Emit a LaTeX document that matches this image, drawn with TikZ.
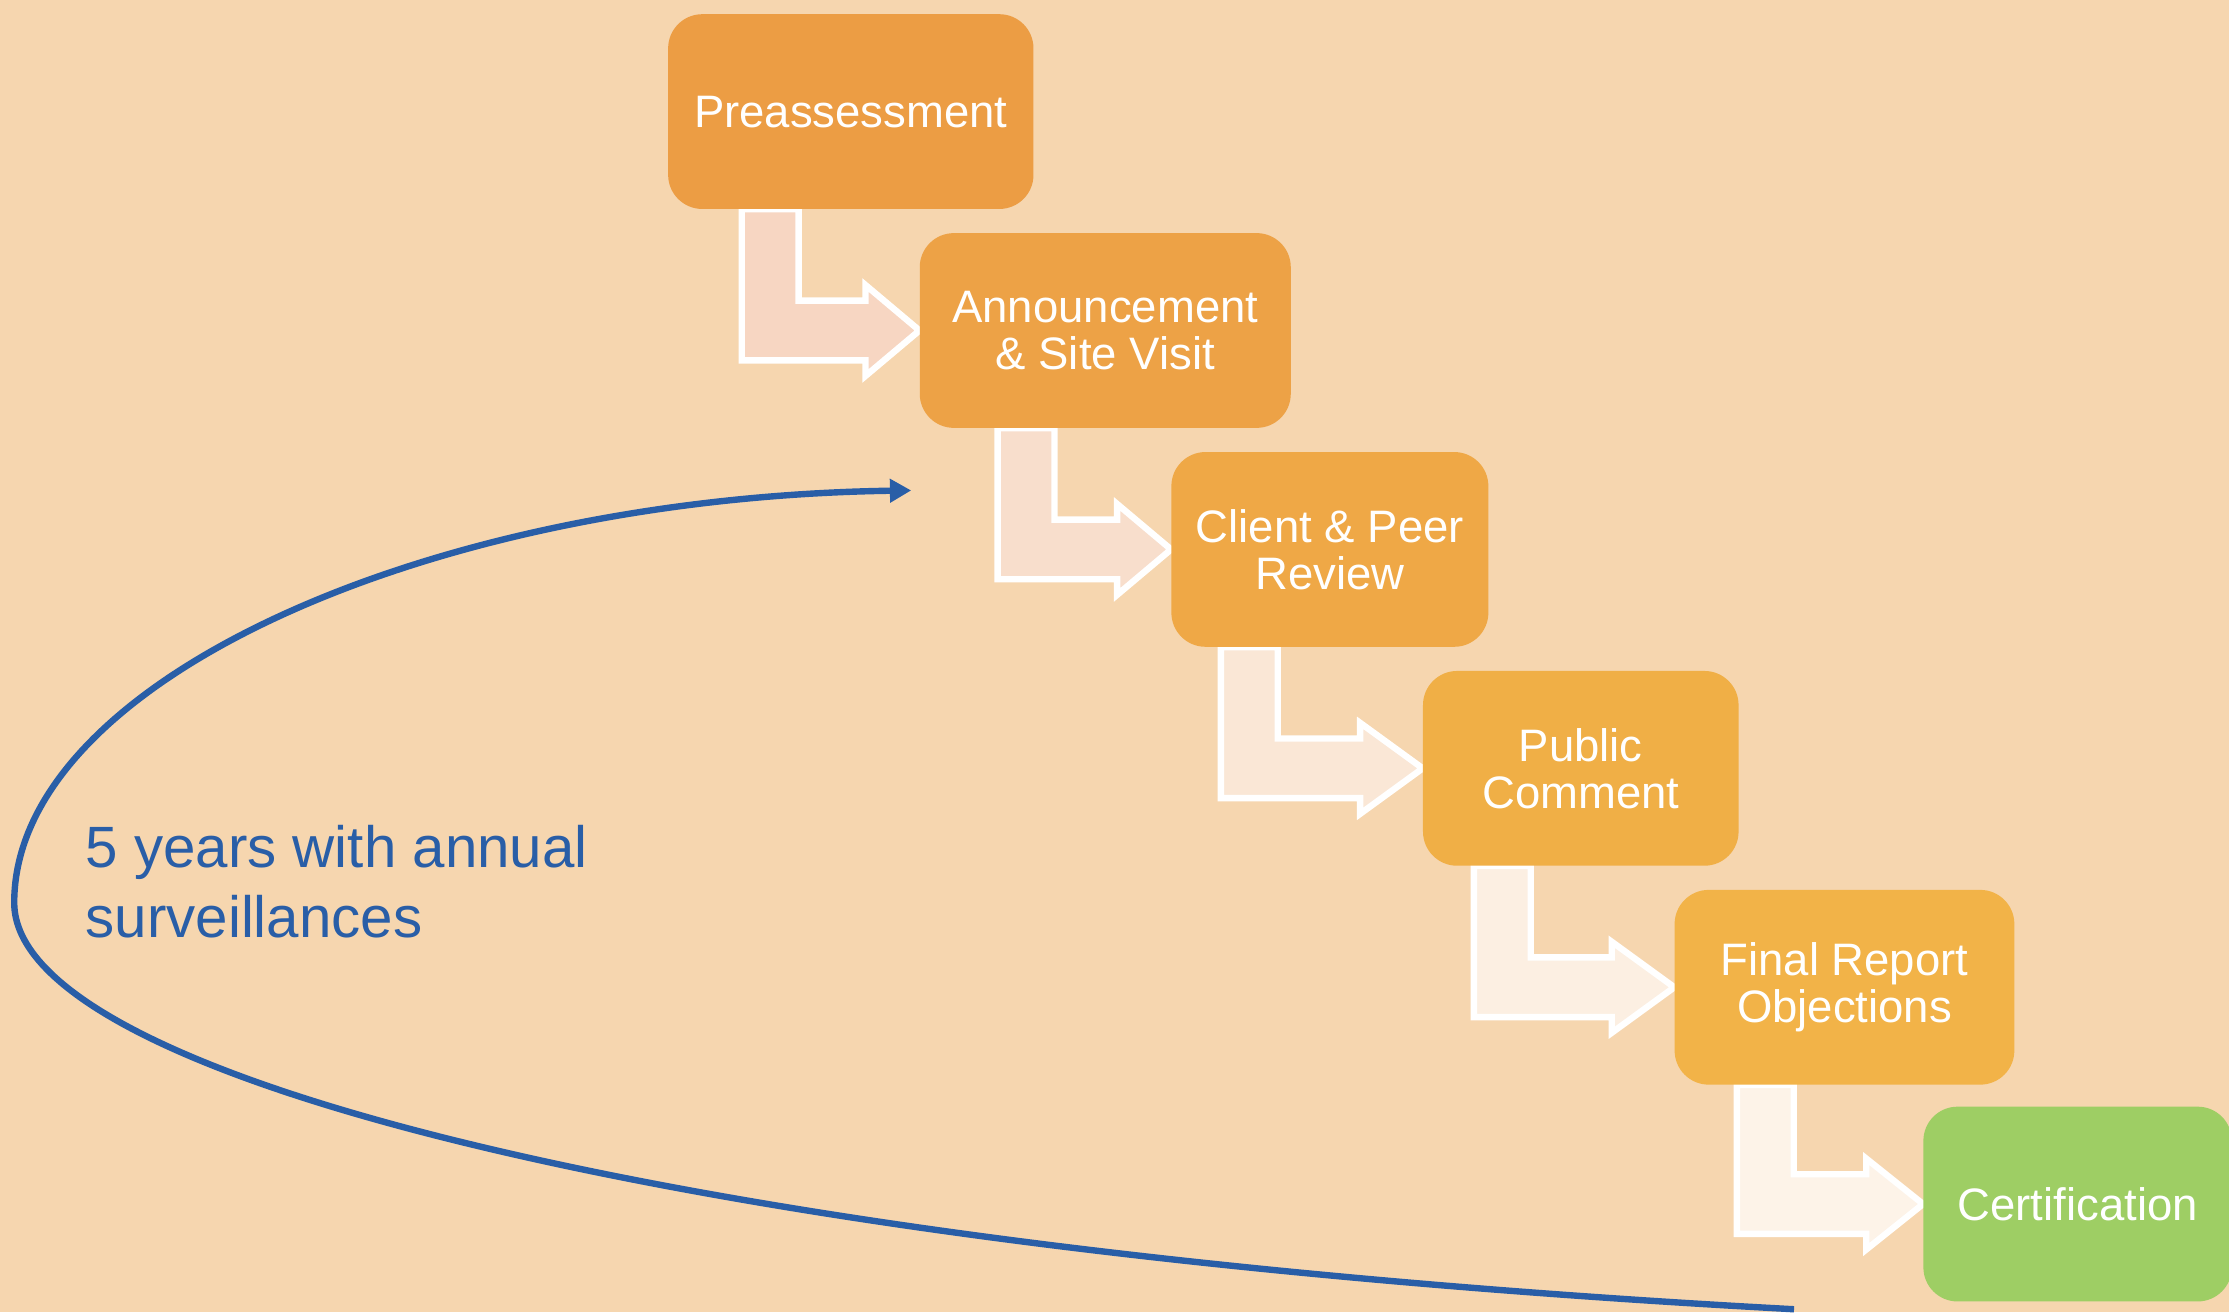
\documentclass[tikz,border=0pt]{standalone}
\usepackage{fontspec}
\setmainfont{Liberation Sans}
\usetikzlibrary{arrows.meta,calc}

\definecolor{bgpeach}{RGB}{246,214,175}
\definecolor{stageA}{RGB}{236,157,68}
\definecolor{stageB}{RGB}{237,162,70}
\definecolor{stageC}{RGB}{239,168,70}
\definecolor{stageD}{RGB}{240,175,70}
\definecolor{stageE}{RGB}{242,179,72}
\definecolor{certgreen}{RGB}{158,206,100}
\definecolor{flowA}{RGB}{247,214,194}
\definecolor{flowB}{RGB}{248,222,204}
\definecolor{flowC}{RGB}{250,231,214}
\definecolor{flowD}{RGB}{252,239,226}
\definecolor{flowE}{RGB}{253,243,232}
\definecolor{loopblue}{RGB}{41,94,167}

\pgfdeclarelayer{backdrop}
\pgfdeclarelayer{flow}
\pgfsetlayers{backdrop,flow,main}

\begin{document}
\begin{tikzpicture}[x=1pt,y=1pt,
  stage/.style={rounded corners=24pt, text=white, align=center, minimum height=137pt, inner sep=0pt, font=\fontsize{32}{33}\selectfont},
  flowbend/.style={draw=white, line width=4.5pt, line join=miter},
  cyclearrow/.style={draw=loopblue, line width=4.5pt, -{Triangle[length=15pt,width=16pt]}}]
\useasboundingbox (0,0) rectangle (1568,923);

% Background
\begin{pgfonlayer}{backdrop}
\fill[bgpeach] (0,0) rectangle (1568,923);
\end{pgfonlayer}

% Stages
\node[stage, fill=stageA, minimum width=257pt] (pre) at (598.5,844.5) {Preassessment};
\node[stage, fill=stageB, minimum width=261pt] (ann) at (777.5,690.5) {Announcement\\\& Site Visit};
\node[stage, fill=stageC, minimum width=223pt] (rev) at (935.5,536.5) {Client \& Peer\\Review};
\node[stage, fill=stageD, minimum width=222pt] (pub) at (1112,382.5) {Public\\Comment};
\node[stage, fill=stageE, minimum width=239pt] (fin) at (1297.5,228.5) {Final Report\\Objections};
\node[stage, fill=certgreen, minimum width=217pt] (cert) at (1461.5,76) {Certification};

% Bent arrows between stages
\begin{pgfonlayer}{flow}
\draw[flowbend, fill=flowA] let \p1=(pre.south west), \p2=(ann.west) in
  (\x1+52pt,\y1) -- (\x1+52pt,\y2-21pt) -- (\x2-38pt,\y2-21pt) -- (\x2-38pt,\y2-32pt) -- (\x2,\y2)
  -- (\x2-38pt,\y2+32pt) -- (\x2-38pt,\y2+21pt) -- (\x1+92pt,\y2+21pt) -- (\x1+92pt,\y1) -- cycle;
\draw[flowbend, fill=flowB] let \p1=(ann.south west), \p2=(rev.west) in
  (\x1+55pt,\y1) -- (\x1+55pt,\y2-21pt) -- (\x2-38pt,\y2-21pt) -- (\x2-38pt,\y2-32pt) -- (\x2,\y2)
  -- (\x2-38pt,\y2+32pt) -- (\x2-38pt,\y2+21pt) -- (\x1+95pt,\y2+21pt) -- (\x1+95pt,\y1) -- cycle;
\draw[flowbend, fill=flowC] let \p1=(rev.south west), \p2=(pub.west) in
  (\x1+35pt,\y1) -- (\x1+35pt,\y2-21pt) -- (\x2-44pt,\y2-21pt) -- (\x2-44pt,\y2-32pt) -- (\x2,\y2)
  -- (\x2-44pt,\y2+32pt) -- (\x2-44pt,\y2+21pt) -- (\x1+75pt,\y2+21pt) -- (\x1+75pt,\y1) -- cycle;
\draw[flowbend, fill=flowD] let \p1=(pub.south west), \p2=(fin.west) in
  (\x1+36pt,\y1) -- (\x1+36pt,\y2-21pt) -- (\x2-44pt,\y2-21pt) -- (\x2-44pt,\y2-32pt) -- (\x2,\y2)
  -- (\x2-44pt,\y2+32pt) -- (\x2-44pt,\y2+21pt) -- (\x1+76pt,\y2+21pt) -- (\x1+76pt,\y1) -- cycle;
\draw[flowbend, fill=flowE] let \p1=(fin.south west), \p2=(cert.west) in
  (\x1+44pt,\y1) -- (\x1+44pt,\y2-21pt) -- (\x2-40pt,\y2-21pt) -- (\x2-40pt,\y2-32pt) -- (\x2,\y2)
  -- (\x2-40pt,\y2+32pt) -- (\x2-40pt,\y2+21pt) -- (\x1+84pt,\y2+21pt) -- (\x1+84pt,\y1) -- cycle;
\end{pgfonlayer}

% Surveillance cycle
\coordinate (loopstart) at (1262,2);
\coordinate (looptip) at (641,578);
\draw[cyclearrow] (loopstart) .. controls (500,43) and (10,163) .. (10,288)
  .. controls (10,443) and (300,573) .. (looptip);
\node[text=loopblue, align=left, anchor=west, inner sep=0pt, font=\fontsize{41}{49}\selectfont] (note) at (60,303) {5 years with annual\\surveillances};
\end{tikzpicture}
\end{document}
